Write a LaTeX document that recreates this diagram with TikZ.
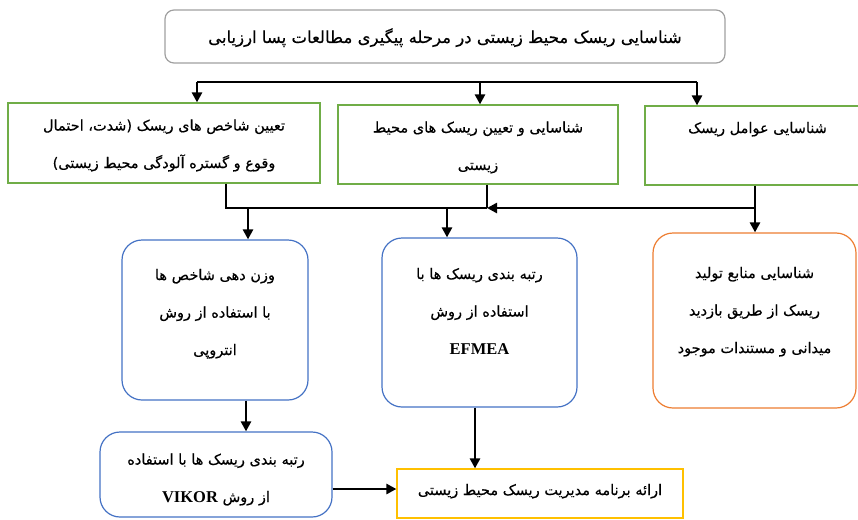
\documentclass[tikz,border=0pt]{standalone}
\usepackage{fontspec}
\usepackage{xcolor}
\usepackage{tikz}
\usetikzlibrary{arrows.meta, positioning, calc}
\TeXXeTstate=1
\newfontfamily\arabicfont[Script=Arabic, FakeBold=0.4]{DejaVu Sans}
\newfontfamily\latinserif{Liberation Serif}
\definecolor{riskgreen}{HTML}{70AD47}
\definecolor{riskblue}{HTML}{4472C4}
\definecolor{riskorange}{HTML}{ED7D31}
\definecolor{riskyellow}{HTML}{FFC000}
\definecolor{riskgray}{HTML}{A0A0A0}
\newcommand{\fa}[1]{\beginR #1\endR}
\newcommand{\lat}[1]{\beginL{\latinserif\bfseries\fontsize{16.5}{37}\selectfont #1}\endL}

\begin{document}
\begin{tikzpicture}[
    x=1pt, y=-1pt,
    basebox/.style={
      rectangle, draw, align=center, inner xsep=0pt, inner ysep=0pt,
      line width=1.2pt, text=black,
      font=\arabicfont\fontsize{14.5}{37.5}\selectfont
    },
    titlebox/.style={basebox, draw=riskgray, rounded corners=9pt,
      minimum width=560pt, font=\arabicfont\fontsize{16.5}{37}\selectfont},
    greenbox/.style={basebox, draw=riskgreen},
    bluebox/.style={basebox, draw=riskblue, rounded corners=20pt},
    orangebox/.style={basebox, draw=riskorange, rounded corners=20pt},
    yellowbox/.style={basebox, draw=riskyellow},
    link/.style={line width=2.6pt},
    arrow/.style={-{Triangle[length=10pt, width=10pt]}, line width=2.6pt},
]
  \useasboundingbox (0,0) rectangle (858,519);
  \clip (0,0) rectangle (858,519);

  \node[titlebox, text height=33pt, text depth=20pt] (title) at (445,36.5) {\fa{شناسایی ریسک محیط زیستی در مرحله پیگیری مطالعات پسا ارزیابی}};

  \node[greenbox, minimum width=312pt, text height=65pt, text depth=15pt] (factors) at (164,143)
    {\fa{تعیین شاخص های ریسک (شدت، احتمال}\\\fa{وقوع و گستره آلودگی محیط زیستی)}};
  \node[greenbox, minimum width=280pt, text height=65pt, text depth=14pt] (identify) at (478,144.5)
    {\fa{شناسایی و تعیین ریسک های محیط}\\\fa{زیستی}};
  \node[greenbox, minimum width=225pt, text height=27pt, text depth=52pt] (agents) at (757.5,145.5)
    {\fa{شناسایی عوامل ریسک}};

  \node[bluebox, minimum width=186pt, text height=115pt, text depth=45pt] (entropy) at (215,320)
    {\fa{وزن دهی شاخص ها}\\\fa{با استفاده از روش}\\\fa{انتروپی}};
  \node[bluebox, minimum width=195pt, text height=116pt, text depth=53pt] (efmea) at (479.5,322.5)
    {\fa{رتبه بندی ریسک ها با}\\\fa{استفاده از روش}\\\lat{EFMEA}};
  \node[orangebox, minimum width=203pt, text height=120pt, text depth=55pt] (sources) at (754.5,320.5)
    {\fa{شناسایی منابع تولید}\\\fa{ریسک از طریق بازدید}\\\fa{میدانی و مستندات موجود}};

  \node[bluebox, minimum width=232pt, text height=70pt, text depth=15pt] (vikor) at (216,474.5)
    {\fa{رتبه بندی ریسک ها با استفاده}\\\fa{از روش \lat{VIKOR}}};
  \node[yellowbox, minimum width=286pt, text height=26pt, text depth=23pt] (plan) at (540,493.5)
    {\fa{ارائه برنامه مدیریت ریسک محیط زیستی}};

  \coordinate (busL) at (197,82);
  \coordinate (busM) at (480,82);
  \coordinate (busR) at (697,82);
  \coordinate (joinL) at (226,208);
  \coordinate (joinM) at (487,208);
  \coordinate (joinR) at (755,208);
  \coordinate (dropL) at (248,208);
  \coordinate (dropM) at (447,208);

  \draw[link] (busL) -- (busR);
  \draw[arrow] (busL) -- (busL |- factors.north);
  \draw[arrow] (busM) -- (busM |- identify.north);
  \draw[arrow] (busR) -- (busR |- agents.north);

  \draw[link] (factors.south -| joinL) -- (joinL) -- (joinM);
  \draw[link] (identify.south -| joinM) -- (joinM);
  \draw[arrow] (agents.south -| joinR) -- (sources.north -| joinR);
  \draw[arrow] (joinR) -- (joinM);
  \draw[arrow] (dropL) -- (dropL |- entropy.north);
  \draw[arrow] (dropM) -- (dropM |- efmea.north);

  \draw[arrow] (entropy.south -| 246,0) -- (vikor.north -| 246,0);
  \draw[arrow] (efmea.south -| 475,0) -- (plan.north -| 475,0);
  \draw[arrow] (vikor.east |- 0,489) -- (plan.west |- 0,489);
\end{tikzpicture}
\end{document}
